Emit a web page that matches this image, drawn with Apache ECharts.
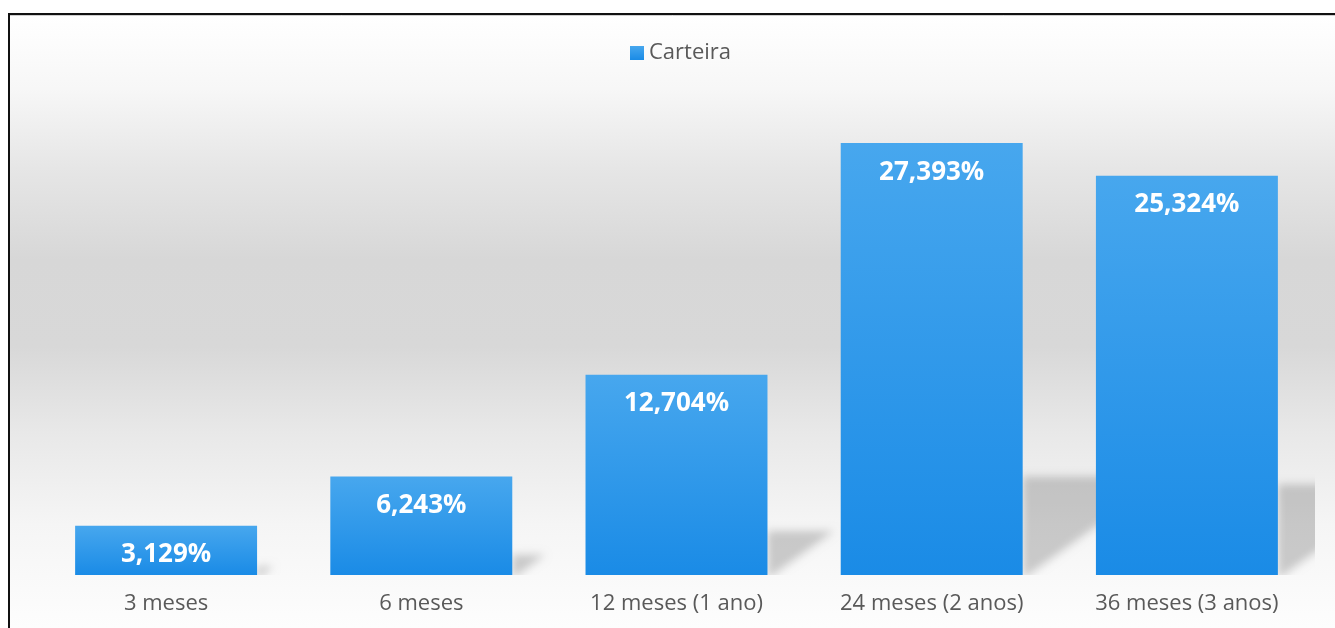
<!DOCTYPE html>
<html>
<head>
<meta charset="utf-8">
<script src="https://cdn.jsdelivr.net/npm/echarts@6/dist/echarts.min.js"></script>
<style>
html,body{margin:0;padding:0;background:#fff;}
#c{width:1335px;height:628px;}
</style>
</head>
<body>
<div id="c"></div>
<script>
const categories = ['3 meses', '6 meses', '12 meses (1 ano)', '24 meses (2 anos)', '36 meses (3 anos)'];
const seriesName = 'Carteira';
const values = [3.129, 6.243, 12.704, 27.393, 25.324];

const chart = echarts.init(document.getElementById('c'), null, {renderer: 'canvas'});
const fmt = v => v.toFixed(3).replace('.', ',') + '%';
const font = "'Open Sans', 'Noto Sans', sans-serif";
const OFF = 3000;

const option = {
  backgroundColor: '#ffffff',
  animation: false,
  graphic: [
    {
      type: 'rect', z: -100, silent: true,
      shape: {x: 10, y: 15, width: 1325, height: 613},
      style: {
        fill: new echarts.graphic.LinearGradient(0, 0, 0, 1, [
          {offset: 0.00, color: '#ffffff'},
          {offset: 0.12, color: '#f7f7f7'},
          {offset: 0.25, color: '#e6e6e6'},
          {offset: 0.40, color: '#d7d7d7'},
          {offset: 0.54, color: '#d8d8d8'},
          {offset: 0.68, color: '#e8e8e8'},
          {offset: 0.83, color: '#f5f5f5'},
          {offset: 1.00, color: '#fdfdfd'}
        ])
      }
    },
    {type: 'line', z: 100, silent: true, shape: {x1: 9, y1: 13, x2: 9, y2: 628}, style: {stroke: '#111', lineWidth: 2}},
    {type: 'line', z: 100, silent: true, shape: {x1: 8, y1: 14, x2: 1335, y2: 14}, style: {stroke: '#111', lineWidth: 2}},
    {type: 'line', z: 100, silent: true, shape: {x1: 10, y1: 15.5, x2: 1335, y2: 15.5}, style: {stroke: '#cfcfcf', lineWidth: 1}}
  ],
  legend: {
    data: [seriesName],
    left: 625, top: 37,
    icon: 'rect', itemWidth: 14, itemHeight: 14,
    textStyle: {color: '#595959', fontSize: 22, fontFamily: font}
  },
  grid: {left: 38.5, right: 20.5, top: 102, bottom: 53, containLabel: false},
  xAxis: {
    type: 'category', data: categories,
    axisLine: {show: false}, axisTick: {show: false},
    axisLabel: {color: '#595959', fontSize: 22, fontFamily: font, margin: 18}
  },
  yAxis: {type: 'value', min: 0, max: 30, show: false, splitLine: {show: false}},
  series: [
    {
      type: 'custom', name: 'shadow', z: 1, clip: true, silent: true,
      data: values.map((v, i) => [i, v]),
      encode: {x: 0, y: 1},
      renderItem: function (params, api) {
        const i = api.value(0);
        const v = api.value(1);
        const base = api.coord([i, 0]);
        const top = api.coord([i, v * 0.235]);
        const bw = api.size([1, 0])[0] * 0.713;
        const r = base[0] + bw / 2;
        const h = base[1] - top[1];
        const w = h / 0.71;
        return {
          type: 'polygon',
          shape: {points: [[r - OFF, base[1] + 4], [r - OFF, top[1] + 3], [r + w - OFF, top[1] + 3]]},
          style: {fill: '#000', shadowBlur: 9, shadowOffsetX: OFF, shadowOffsetY: 0, shadowColor: 'rgba(0,0,0,0.19)'}
        };
      }
    },
    {
      type: 'bar', name: seriesName, z: 3,
      data: values,
      barWidth: '71.3%',
      itemStyle: {
        color: new echarts.graphic.LinearGradient(0, 0, 0, 1, [
          {offset: 0, color: '#47a7ee'},
          {offset: 1, color: '#1a8be6'}
        ])
      },
      label: {
        show: true, position: 'insideTop', distance: 16,
        color: '#ffffff', fontSize: 26, fontWeight: 'bold', fontFamily: font,
        formatter: p => fmt(p.value)
      }
    }
  ]
};
chart.setOption(option);
</script>
</body>
</html>
